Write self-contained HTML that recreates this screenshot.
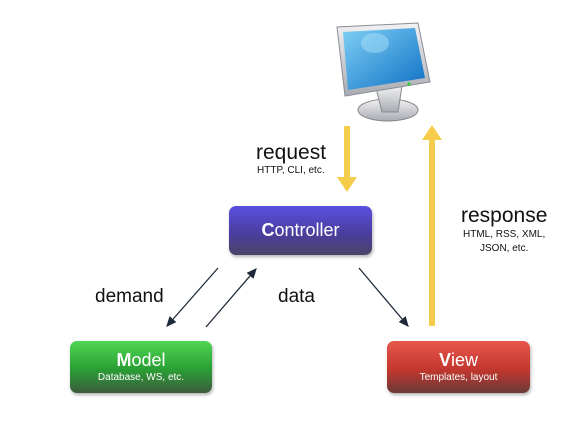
<!DOCTYPE html>
<html><head><style>
body{margin:0;width:578px;height:428px;background:#fff;font-family:"Liberation Sans",sans-serif;position:relative;overflow:hidden}
.t{position:absolute;color:#111;white-space:nowrap}
.box{position:absolute;border-radius:7px;color:#fff;text-align:center;box-shadow:1px 2px 3px rgba(0,0,0,.3)}
</style></head><body>
<svg width="578" height="428" style="position:absolute;left:0;top:0">
<defs>
<linearGradient id="scr" x1="0" y1="0" x2="1" y2="1"><stop offset="0" stop-color="#7fd0f5"/><stop offset="1" stop-color="#0f6fc4"/></linearGradient>
<linearGradient id="gr" x1="0" y1="0" x2="0" y2="1"><stop offset="0" stop-color="#f2f2f4"/><stop offset="1" stop-color="#a8abb2"/></linearGradient>
<marker id="a" markerWidth="8" markerHeight="8" refX="7" refY="4" orient="auto"><path d="M0,0.5 L8,4 L0,7.5 z" fill="#1d2a3a"/></marker>
</defs>
<!-- monitor -->
<ellipse cx="388" cy="110" rx="30" ry="11" fill="url(#gr)" stroke="#888"/>
<path d="M376,88 L402,86 L398,112 L382,112 z" fill="url(#gr)" stroke="#888"/>
<path d="M337,27 L418,23 L430,82 L345,96 z" fill="url(#gr)" stroke="#8a8d94"/>
<path d="M343,32 L415,28 L425,78 L348,90 z" fill="url(#scr)"/>
<ellipse cx="375" cy="43" rx="14" ry="10" fill="#a8e0fa" opacity=".5"/>
<circle cx="409" cy="84" r="1.6" fill="#3c3"/>
<!-- yellow arrows -->
<rect x="344" y="126" width="6" height="52" fill="#f6cd4a"/>
<path d="M337,177 L357,177 L347,192 z" fill="#f6cd4a"/>
<rect x="429" y="138" width="6" height="188" fill="#f6cd4a"/>
<path d="M422,140 L442,140 L432,125 z" fill="#f6cd4a"/>
<!-- thin arrows -->
<line x1="218" y1="268" x2="167" y2="326" stroke="#1d2a3a" stroke-width="1.3" marker-end="url(#a)"/>
<line x1="206" y1="327" x2="256" y2="269" stroke="#1d2a3a" stroke-width="1.3" marker-end="url(#a)"/>
<line x1="359" y1="268" x2="408" y2="326" stroke="#1d2a3a" stroke-width="1.3" marker-end="url(#a)"/>
</svg>
<div class="t" style="left:256px;top:141px;font-size:21px">request</div>
<div class="t" style="left:257px;top:165px;font-size:10px">HTTP, CLI, etc.</div>
<div class="t" style="left:461px;top:204px;font-size:21px">response</div>
<div class="t" style="left:463px;top:229px;font-size:10px">HTML, RSS, XML,</div>
<div class="t" style="left:480px;top:243px;font-size:10px">JSON, etc.</div>
<div class="t" style="left:95px;top:286px;font-size:19px">demand</div>
<div class="t" style="left:278px;top:286px;font-size:19px">data</div>
<div class="box" style="left:229px;top:206px;width:143px;height:49px;background:linear-gradient(#5b4fe0,#4a3d9a 60%,#4a4466)"><div style="font-size:18px;margin-top:14px"><b>C</b>ontroller</div></div>
<div class="box" style="left:70px;top:341px;width:142px;height:52px;background:linear-gradient(#4fd653,#2a9e34 55%,#3d5a3e)"><div style="font-size:18px;margin-top:9px"><b>M</b>odel</div><div style="font-size:10px;margin-top:1px">Database, WS, etc.</div></div>
<div class="box" style="left:387px;top:341px;width:143px;height:52px;background:linear-gradient(#e8574c,#c2372e 55%,#6a3a38)"><div style="font-size:18px;margin-top:9px"><b>V</b>iew</div><div style="font-size:10px;margin-top:1px">Templates, layout</div></div>
</body></html>
